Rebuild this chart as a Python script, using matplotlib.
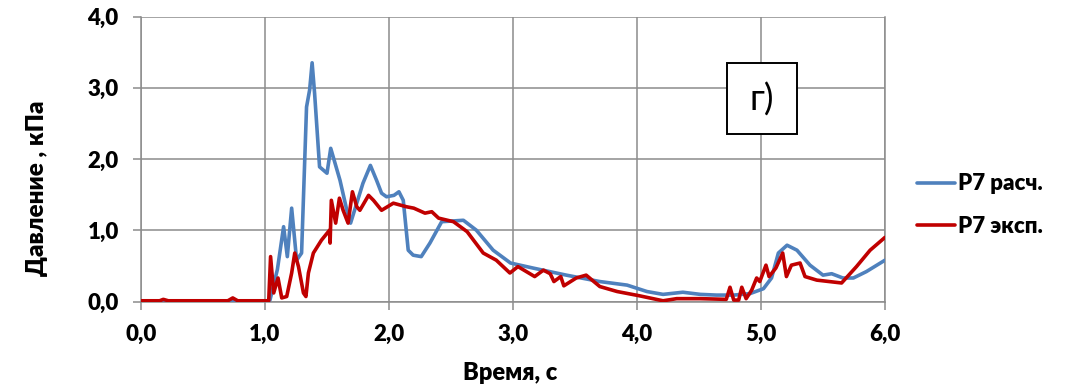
import matplotlib
matplotlib.use("Agg")
import matplotlib.pyplot as plt
from matplotlib.ticker import FuncFormatter
from matplotlib.patches import Rectangle

plt.rcParams['font.family'] = ['Lato', 'DejaVu Sans']

# P7 calculated (blue)
t_calc = [0.0, 0.5, 1.0, 1.04, 1.10, 1.15, 1.18, 1.215, 1.255, 1.295, 1.335, 1.36, 1.38, 1.40,
          1.44, 1.50, 1.53, 1.565, 1.605, 1.66, 1.69, 1.74, 1.79, 1.85, 1.90, 1.94, 1.98,
          2.04, 2.08, 2.115, 2.155, 2.195, 2.26, 2.33, 2.425, 2.60, 2.705, 2.84, 2.98,
          3.16, 3.43, 3.70, 3.92, 4.08, 4.21, 4.37, 4.51, 4.64, 4.78, 4.91, 5.02, 5.085,
          5.14, 5.21, 5.29, 5.395, 5.50, 5.57, 5.66, 5.745, 5.85, 6.0]
p_calc = [0.0, 0.0, 0.0, 0.02, 0.45, 1.05, 0.63, 1.31, 0.58, 0.68, 2.73, 2.97, 3.35, 2.92,
          1.89, 1.80, 2.15, 1.94, 1.70, 1.28, 1.10, 1.38, 1.66, 1.91, 1.70, 1.52, 1.47,
          1.49, 1.54, 1.42, 0.72, 0.65, 0.63, 0.82, 1.12, 1.14, 1.00, 0.72, 0.54,
          0.47, 0.37, 0.28, 0.23, 0.14, 0.10, 0.13, 0.10, 0.09, 0.09, 0.11, 0.18, 0.33,
          0.68, 0.79, 0.72, 0.51, 0.37, 0.39, 0.33, 0.33, 0.42, 0.58]

# P7 experimental (red)
t_exp = [0.0, 0.15, 0.18, 0.22, 0.70, 0.74, 0.78, 1.03, 1.045, 1.07, 1.105, 1.135, 1.175,
         1.215, 1.24, 1.27, 1.31, 1.33, 1.35, 1.39, 1.455, 1.52, 1.525, 1.535, 1.57, 1.60,
         1.63, 1.67, 1.705, 1.74, 1.765, 1.835, 1.875, 1.94, 2.035, 2.14, 2.20, 2.29,
         2.345, 2.40, 2.52, 2.63, 2.76, 2.865, 2.975, 3.04, 3.175, 3.245, 3.30, 3.33,
         3.385, 3.41, 3.51, 3.59, 3.70, 3.84, 4.02, 4.21, 4.32, 4.51, 4.72, 4.75, 4.78,
         4.82, 4.845, 4.88, 4.925, 4.965, 4.99, 5.04, 5.065, 5.12, 5.175, 5.205, 5.245,
         5.315, 5.355, 5.45, 5.65, 5.77, 5.88, 6.0]
p_exp = [0.01, 0.01, 0.03, 0.01, 0.01, 0.05, 0.01, 0.01, 0.63, 0.12, 0.33, 0.05, 0.07,
         0.40, 0.68, 0.49, 0.12, 0.07, 0.40, 0.68, 0.86, 1.00, 0.82, 1.42, 1.10, 1.45,
         1.28, 1.10, 1.54, 1.33, 1.28, 1.49, 1.42, 1.28, 1.38, 1.33, 1.31, 1.24,
         1.26, 1.17, 1.12, 0.98, 0.68, 0.58, 0.40, 0.49, 0.35, 0.44, 0.39, 0.28,
         0.35, 0.22, 0.33, 0.37, 0.21, 0.14, 0.08, 0.01, 0.04, 0.04, 0.03, 0.20, 0.02,
         0.02, 0.20, 0.04, 0.16, 0.33, 0.28, 0.51, 0.35, 0.47, 0.68, 0.35, 0.51,
         0.54, 0.35, 0.30, 0.26, 0.49, 0.72, 0.90]

x_ticks = [0, 1, 2, 3, 4, 5, 6]
y_ticks = [0, 1, 2, 3, 4]

W, H = 1071, 385
fig = plt.figure(figsize=(W / 100, H / 100), dpi=100)
L, R, B, T = 141, 885, 301.5, 16.5
ax = fig.add_axes([L / W, 1 - B / H, (R - L) / W, (B - T) / H])

ax.plot(t_calc, p_calc, color='#4F81BD', lw=2.6, label='P7 расч.', zorder=3,
        solid_joinstyle='round', solid_capstyle='round')
ax.plot(t_exp, p_exp, color='#C00000', lw=2.6, label='P7 эксп.', zorder=4,
        solid_joinstyle='round', solid_capstyle='round')

ax.set_xlim(0, 6)
ax.set_ylim(0, 4)
ax.set_xticks(x_ticks)
ax.set_yticks(y_ticks)
fmt = FuncFormatter(lambda v, p: f"{v:.1f}".replace('.', ','))
ax.xaxis.set_major_formatter(fmt)
ax.yaxis.set_major_formatter(fmt)
ax.grid(True, color='#8C8C8C', lw=1.1)
ax.set_axisbelow(True)
for s in ax.spines.values():
    s.set_color('#8C8C8C')
    s.set_linewidth(1.1)
ax.spines['top'].set_visible(False)
ax.tick_params(axis='both', colors='#8C8C8C', labelcolor='black', length=6, width=1.1,
               labelsize=16, pad=10)
for lbl in ax.get_xticklabels() + ax.get_yticklabels():
    lbl.set_fontweight('heavy')

ax.set_xlabel('Время, с', fontsize=17, fontweight='heavy', va='center')
ax.xaxis.set_label_coords((510 - L) / (R - L), (B - 373) / (B - T))
ax.set_ylabel('Давление , кПа', fontsize=17.5, fontweight='heavy', va='center')
ax.yaxis.set_label_coords((37 - L) / (R - L), (B - 188) / (B - T))

# label box "г)"
bx0, bx1, by0, by1 = 727, 797, 134, 63
ax.add_patch(Rectangle(((bx0 - L) / (R - L), (B - by0) / (B - T)),
                       (bx1 - bx0) / (R - L), (by0 - by1) / (B - T),
                       transform=ax.transAxes, fc='white', ec='black', lw=1.4, zorder=5))
ax.text((762 - L) / (R - L), (B - 100) / (B - T), 'г)', fontsize=26, ha='center',
        va='center', transform=ax.transAxes, zorder=6)

leg = fig.legend(loc='center left', bbox_to_anchor=(908 / W, 1 - 205 / H), frameon=False,
                 prop={'weight': 'heavy', 'size': 16}, handlelength=1.7, labelspacing=0.95,
                 handletextpad=0.15, borderaxespad=0)
for h in leg.get_lines():
    h.set_linewidth(2.6)

fig.savefig('out.png', dpi=100)
